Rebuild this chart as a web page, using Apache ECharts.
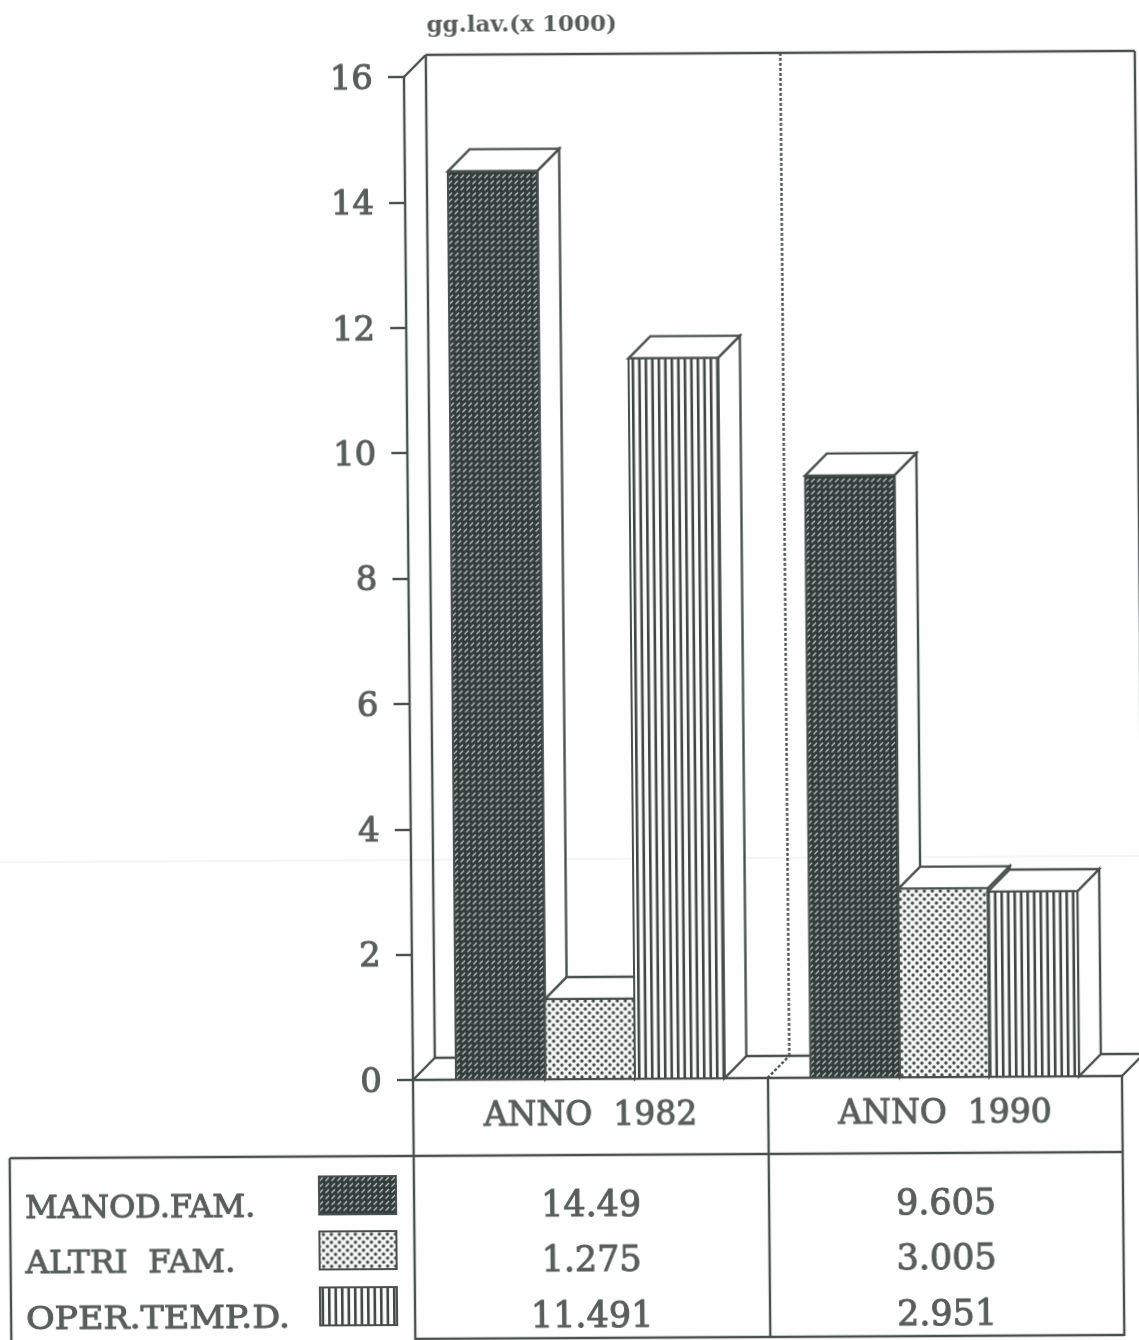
<!DOCTYPE html>
<html>
<head>
<meta charset="utf-8">
<style>
    html, body { margin: 0; width: 1139px; height: 1340px; overflow: hidden; background: #fefefe; }
    /* the scan is slightly skewed and soft: keep the chart square and shear the whole sheet */
    #main { position: absolute; left: 0; top: 0; width: 1190px; height: 1400px; filter: blur(0.4px);
            transform-origin: 413px 1080px; transform: matrix(1, -0.0056, 0.009, 1, 0, 0); }
</style>
</head>
<body>
<div id="main"></div>
<script src="https://cdn.jsdelivr.net/npm/echarts@6/dist/echarts.min.js"></script>
<script>
const years = ['ANNO  1982', 'ANNO  1990'];
const seriesNames = ['MANOD.FAM.', 'ALTRI  FAM.', 'OPER.TEMP.D.'];
const manodFam = [14.49, 9.605];
const altriFam = [1.275, 3.005];
const operTemp = [11.491, 2.951];
const tableText = [['14.49', '9.605'], ['1.275', '3.005'], ['11.491', '2.951']];

const INK = '#48504e';
const TEXT = '#565d5b';
const SERIF = '"DejaVu Serif", serif';
const DEPTH = 22;
const BAR_SHARE = 0.2525;
const LINE_W = 2.4;
const TEXT_W = 1;

function makePattern(w, h, draw) {
    const c = document.createElement('canvas');
    c.width = w;
    c.height = h;
    draw(c.getContext('2d'));
    return { image: c, repeat: 'repeat' };
}

const darkFill = makePattern(6, 6, ctx => {
    ctx.fillStyle = '#323c3a';
    ctx.fillRect(0, 0, 6, 6);
    ctx.strokeStyle = '#c0c6c3';
    ctx.lineWidth = 1.3;
    ctx.beginPath();
    ctx.moveTo(0.5, 4.5);
    ctx.lineTo(4, 1);
    ctx.stroke();
});
const dotFill = makePattern(8, 8, ctx => {
    ctx.fillStyle = '#f4f5f4';
    ctx.fillRect(0, 0, 8, 8);
    ctx.fillStyle = '#454d4b';
    [[2, 2], [6, 6]].forEach(p => {
        ctx.beginPath();
        ctx.arc(p[0], p[1], 1.7, 0, Math.PI * 2);
        ctx.fill();
    });
});
const stripeFill = makePattern(13, 4, ctx => {
    ctx.fillStyle = '#fbfbfb';
    ctx.fillRect(0, 0, 13, 4);
    ctx.fillStyle = '#3f4745';
    ctx.fillRect(1, 0, 2.6, 4);
    ctx.fillRect(7.5, 0, 2.6, 4);
});
const fills = [darkFill, dotFill, stripeFill];

const line = (x1, y1, x2, y2, dash) => ({
    type: 'line',
    shape: { x1: x1, y1: y1, x2: x2, y2: y2 },
    style: { stroke: INK, lineWidth: LINE_W, lineDash: dash || null }
});

// back wall, floor and the dotted divider between the two years
function renderFrame(params, api) {
    const top = api.coord([0, 16]);
    const bottom = api.coord([0, 0]);
    const band = api.size([1, 0])[0];
    const left = top[0] - band / 2;
    const right = left + band * 2;
    const mid = left + band;
    const t = top[1], b = bottom[1], d = DEPTH;
    return {
        type: 'group',
        children: [
            line(left, t, left + d, t - d),
            line(left + d, t - d, right + d, t - d),
            line(left + d, t - d, left + d, b - d),
            line(right + d, t - d, right + d, b - d),
            line(left, b, left + d, b - d),
            line(left + d, b - d, right + d, b - d),
            line(right, b, right + d, b - d),
            line(mid + d, t - d, mid + d, b - d, [3, 2]),
            line(mid, b, mid + d, b - d, [3, 2])
        ]
    };
}

function renderBar(params, api) {
    const s = params.seriesIndex - 1;
    const band = api.size([1, 0])[0];
    const w = band * BAR_SHARE;
    const top = api.coord([api.value(0), api.value(1)]);
    const base = api.coord([api.value(0), 0]);
    const x = top[0] + (s - 1.5) * w;
    const d = DEPTH;
    const faceStyle = { fill: '#fefefe', stroke: INK, lineWidth: LINE_W };
    return {
        type: 'group',
        children: [
            { type: 'polygon', shape: { points: [[x + w, top[1]], [x + w + d, top[1] - d], [x + w + d, base[1] - d], [x + w, base[1]]] }, style: faceStyle },
            { type: 'polygon', shape: { points: [[x, top[1]], [x + d, top[1] - d], [x + w + d, top[1] - d], [x + w, top[1]]] }, style: faceStyle },
            { type: 'rect', shape: { x: x, y: top[1], width: w, height: base[1] - top[1] },
              style: { fill: fills[s], stroke: INK, lineWidth: 2 } }
        ]
    };
}

const barSeries = (name, values) => ({
    type: 'custom',
    name: name,
    renderItem: renderBar,
    clip: false,
    z: 3,
    encode: { x: 0, y: 1 },
    data: values.map((v, i) => [i, v])
});

const rowY = [1208, 1263, 1319];
const swatchY = [1176, 1231, 1287];
const colX = [590, 945];
// the typewriter face of the original runs wider than DejaVu where kerning bites
const labelStretch = [1, 1.02, 1.087];
const tableLine = { stroke: INK, lineWidth: LINE_W };
const tableGraphics = [
    { type: 'line', shape: { x1: 9, y1: 1156, x2: 1122, y2: 1156 }, style: tableLine },
    { type: 'line', shape: { x1: 9, y1: 1156, x2: 9, y2: 1345 }, style: tableLine },
    { type: 'line', shape: { x1: 413, y1: 1339, x2: 1122, y2: 1339 }, style: tableLine },
    // crease in the scanned paper
    { type: 'line', shape: { x1: -20, y1: 860, x2: 1190, y2: 860 }, style: { stroke: '#ececec', lineWidth: 1 }, z: -1 }
];
seriesNames.forEach((name, i) => {
    tableGraphics.push({
        type: 'text', x: 24, y: rowY[i], scaleX: labelStretch[i],
        style: { text: name, fill: TEXT, stroke: TEXT, lineWidth: TEXT_W, font: '32px ' + SERIF, verticalAlign: 'middle' }
    });
    tableGraphics.push({
        type: 'rect', shape: { x: 318, y: swatchY[i], width: 77, height: 38 },
        style: { fill: fills[i], stroke: INK, lineWidth: 2 }
    });
    colX.forEach((x, j) => {
        tableGraphics.push({
            type: 'text', x: x, y: rowY[i],
            style: { text: tableText[i][j], fill: TEXT, stroke: TEXT, lineWidth: TEXT_W, font: '35px ' + SERIF, align: 'center', verticalAlign: 'middle' }
        });
    });
});

const chart = echarts.init(document.getElementById('main'));
chart.setOption({
    animation: false,
    backgroundColor: 'transparent',
    title: {
        text: 'gg.lav.(x 1000)',
        left: 436,
        top: 15,
        padding: 0,
        textStyle: { fontFamily: SERIF, fontSize: 23, fontWeight: 'bold', color: TEXT }
    },
    grid: { left: 413, top: 77, width: 709, height: 1003 },
    xAxis: {
        type: 'category',
        data: years,
        axisLine: { lineStyle: { color: INK, width: LINE_W } },
        axisTick: { show: true, length: 260, lineStyle: { color: INK, width: LINE_W } },
        axisLabel: { margin: 21, fontFamily: SERIF, fontSize: 33, color: TEXT,
                     textBorderColor: TEXT, textBorderWidth: TEXT_W }
    },
    yAxis: {
        type: 'value',
        min: 0,
        max: 16,
        interval: 2,
        splitLine: { show: false },
        axisLine: { show: true, lineStyle: { color: INK, width: LINE_W } },
        axisTick: { show: true, length: 16, lineStyle: { color: INK, width: LINE_W } },
        axisLabel: {
            margin: 31,
            formatter: '{tick|{value}}',
            rich: {
                tick: { fontFamily: SERIF, fontSize: 34, color: TEXT, padding: [6, 0, 0, 0],
                        textBorderColor: TEXT, textBorderWidth: TEXT_W }
            }
        }
    },
    series: [
        { type: 'custom', name: 'frame', renderItem: renderFrame, clip: false, silent: true, z: 1,
          encode: { x: 0, y: 1 }, data: [[0, 0]] },
        barSeries(seriesNames[0], manodFam),
        barSeries(seriesNames[1], altriFam),
        barSeries(seriesNames[2], operTemp)
    ],
    graphic: tableGraphics
});
</script>
</body>
</html>
